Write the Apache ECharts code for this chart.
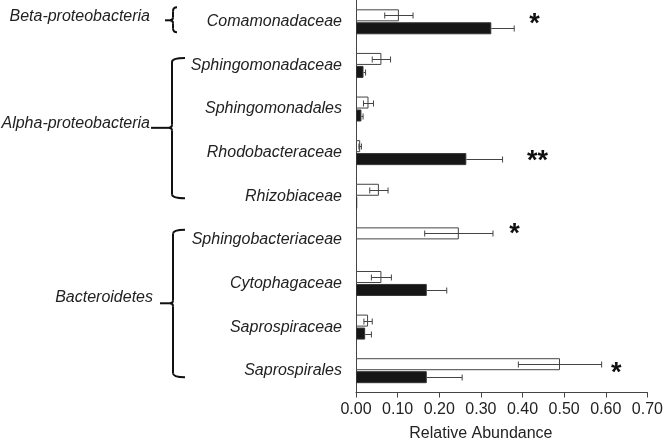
<!DOCTYPE html>
<html>
<head>
<meta charset="utf-8">
<script src="https://cdn.jsdelivr.net/npm/echarts@6/dist/echarts.min.js"></script>
<style>
html,body{margin:0;padding:0;background:#fff;}
#c{width:666px;height:440px;}
</style>
</head>
<body>
<div id="c"></div>
<script>
// ---- data ----
const categories = ['Comamonadaceae','Sphingomonadaceae','Sphingomonadales','Rhodobacteraceae','Rhizobiaceae','Sphingobacteriaceae','Cytophagaceae','Saprospiraceae','Saprospirales'];
const whiteValues = [0.103, 0.061, 0.030, 0.010, 0.055, 0.247, 0.061, 0.029, 0.490];
const whiteErrors = [0.034, 0.022, 0.012, 0.003, 0.022, 0.082, 0.024, 0.010, 0.100];
const blackValues = [0.325, 0.018, 0.013, 0.265, 0.003, 0.000, 0.170, 0.022, 0.170];
const blackErrors = [0.055, 0.005, 0.004, 0.087, 0.000, 0.000, 0.048, 0.015, 0.085];
const xTicks = [0, 0.1, 0.2, 0.3, 0.4, 0.5, 0.6, 0.7];
const xAxisTitle = 'Relative Abundance';
// significance marks: category index, x anchor (data units), text
const sigCategory = [0, 3, 5, 8];
const sigX = [0.429, 0.436, 0.381, 0.625];
const sigText = ['*', '**', '*', '*'];
// taxonomic groups (category index ranges)
const groupLabels = ['Beta-proteobacteria', 'Alpha-proteobacteria', 'Bacteroidetes'];
const groupFrom = [0, 1, 5];
const groupTo = [0, 4, 8];

// ---- layout (not data) ----
const FONT = "'Liberation Sans', Arial, sans-serif";
const BAR_W = 12;
const BAR_OFF = 6.5;
const sigDy = [-3, 2.7, -11.7, -2.8];
const braceLayout = [
  {top:-14.5, bottom:10.5, nibDy:-1.5, textDy:-5.5, vx:173, hookX:177, nibX:165, textRight:150},
  {top:-7.5, bottom:2, nibDy:-3, textDy:-7.5, vx:172, hookX:185, nibX:151, textRight:150},
  {top:-10, bottom:6.5, nibDy:-2, textDy:-7.5, vx:173, hookX:185, nibX:160, textRight:153}
];

const chart = echarts.init(document.getElementById('c'), null, {renderer:'canvas'});

const errData = [];
categories.forEach((c, i) => {
  errData.push([whiteValues[i] - whiteErrors[i], whiteValues[i] + whiteErrors[i], i, -BAR_OFF, 1]);
  if (blackErrors[i] > 0) errData.push([blackValues[i], blackValues[i] + blackErrors[i], i, BAR_OFF, 0]);
});
const sigData = sigCategory.map((c, k) => [sigX[k], c, sigDy[k]]);
const barItems = vals => vals.map(v => v === 0 ? {value: v, itemStyle: {borderWidth: 0, opacity: 0}} : v);

const option = {
  animation: false,
  backgroundColor: '#fff',
  textStyle: {fontFamily: FONT},
  grid: {left: 356, top: 0, width: 295, height: 392.5, containLabel: false},
  xAxis: {
    type: 'value', min: 0, max: 0.7, interval: 0.1,
    axisLine: {show: true, lineStyle: {color: '#444', width: 1}},
    axisTick: {show: true, length: 5, lineStyle: {color: '#444'}},
    splitLine: {show: false},
    axisLabel: {fontSize: 16, color: '#222', margin: 9, fontFamily: FONT,
      formatter: v => xTicks.some(t => Math.abs(t - v) < 1e-9) ? v.toFixed(2) : ''}
  },
  yAxis: {
    type: 'category', inverse: true, data: categories,
    axisLine: {show: true, lineStyle: {color: '#444', width: 1}},
    axisTick: {show: false},
    axisLabel: {fontSize: 16, fontStyle: 'italic', color: '#222', margin: 14, fontFamily: FONT}
  },
  series: [
    {type: 'bar', name: 'white', data: barItems(whiteValues), barWidth: BAR_W, barGap: '8%',
     itemStyle: {color: '#ffffff', borderColor: '#444', borderWidth: 1}, z: 2},
    {type: 'bar', name: 'black', data: barItems(blackValues), barWidth: BAR_W, barGap: '8%',
     itemStyle: {color: '#161616', borderColor: '#333', borderWidth: 1}, z: 2},
    {type: 'custom', name: 'err', data: errData, z: 5,
     encode: {x: [0, 1], y: 2},
     renderItem: (params, api) => {
       const lo = api.value(0), hi = api.value(1), cat = api.value(2), off = api.value(3);
       const capLo = api.value(4);
       const p0 = api.coord([lo, cat]);
       const p1 = api.coord([hi, cat]);
       const y = Math.round(p0[1] + off) + 0.5;
       const children = [
         {type: 'line', shape: {x1: p0[0], y1: y, x2: p1[0], y2: y}, style: {stroke: '#444', lineWidth: 1}},
         {type: 'line', shape: {x1: p1[0], y1: y - 3, x2: p1[0], y2: y + 3}, style: {stroke: '#444', lineWidth: 1}}
       ];
       if (capLo) children.push({type: 'line', shape: {x1: p0[0], y1: y - 3, x2: p0[0], y2: y + 3}, style: {stroke: '#444', lineWidth: 1}});
       return {type: 'group', children};
     }},
    {type: 'custom', name: 'sig', data: sigData, z: 6,
     encode: {x: 0, y: 1},
     renderItem: (params, api) => {
       const p = api.coord([api.value(0), api.value(1)]);
       return {type: 'text', x: p[0], y: p[1] + api.value(2) + 6,
         style: {text: sigText[params.dataIndex], fontSize: 27, fontWeight: 'bold', fill: '#111',
                 align: 'center', verticalAlign: 'middle', fontFamily: FONT}};
     }}
  ]
};
chart.setOption(option);

// braces, group labels and axis title
const cy = i => chart.convertToPixel({gridIndex: 0}, [0, i])[1];
const graphics = [];
const stroke = {stroke: '#111', lineWidth: 2, fill: null};
groupLabels.forEach((label, g) => {
  const L = braceLayout[g];
  const top = cy(groupFrom[g]) + L.top;
  const bot = cy(groupTo[g]) + L.bottom;
  const mid = (cy(groupFrom[g]) + cy(groupTo[g])) / 2 + L.nibDy;
  const vx = L.vx, hx = L.hookX, nx = L.nibX;
  const r = Math.min(4, (hx - vx));
  // top hook
  graphics.push({type: 'bezierCurve', shape: {x1: hx, y1: top, cpx1: vx, cpy1: top, x2: vx, y2: top + r}, style: stroke, z: 10});
  // upper vertical
  graphics.push({type: 'line', shape: {x1: vx, y1: top + r, x2: vx, y2: mid - 3}, style: stroke, z: 10});
  // nib curves
  graphics.push({type: 'bezierCurve', shape: {x1: vx, y1: mid - 3, cpx1: vx, cpy1: mid, x2: vx - 3, y2: mid}, style: stroke, z: 10});
  graphics.push({type: 'bezierCurve', shape: {x1: vx - 3, y1: mid, cpx1: vx, cpy1: mid, x2: vx, y2: mid + 3}, style: stroke, z: 10});
  graphics.push({type: 'line', shape: {x1: vx - 3, y1: mid, x2: nx, y2: mid}, style: stroke, z: 10});
  // lower vertical
  graphics.push({type: 'line', shape: {x1: vx, y1: mid + 3, x2: vx, y2: bot - r}, style: stroke, z: 10});
  // bottom hook
  graphics.push({type: 'bezierCurve', shape: {x1: vx, y1: bot - r, cpx1: vx, cpy1: bot, x2: hx, y2: bot}, style: stroke, z: 10});
  graphics.push({type: 'text', x: L.textRight, y: (cy(groupFrom[g]) + cy(groupTo[g])) / 2 + L.textDy,
    style: {text: label, fontSize: 16, fontStyle: 'italic', fill: '#222', align: 'right', verticalAlign: 'middle', fontFamily: FONT}, z: 10});
});
const titleX = chart.convertToPixel({gridIndex: 0}, [0.3, 0])[0];
graphics.push({type: 'text', x: titleX, y: 434,
  style: {text: xAxisTitle, fontSize: 16, fill: '#222', align: 'center', verticalAlign: 'middle', fontFamily: FONT}, z: 10});
chart.setOption({graphic: graphics});
</script>
</body>
</html>
